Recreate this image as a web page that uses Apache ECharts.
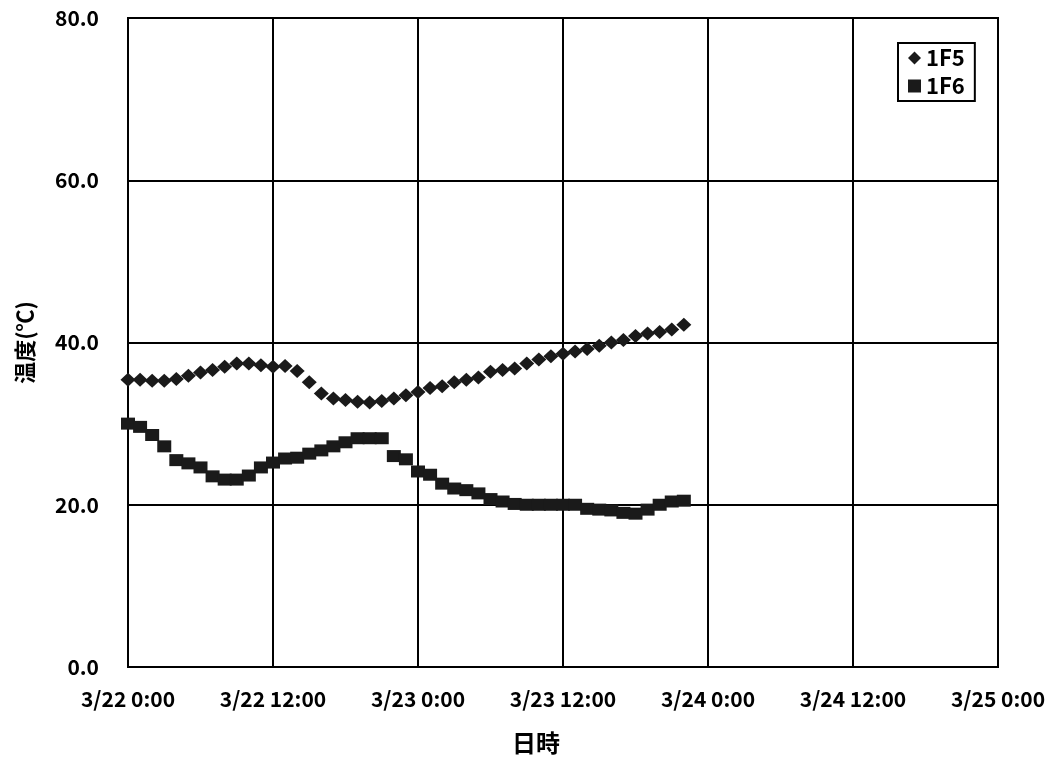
<!DOCTYPE html>
<html><head><meta charset="utf-8">
<script src="https://cdn.jsdelivr.net/npm/echarts@6/dist/echarts.min.js"></script>
<style>html,body{margin:0;padding:0;background:#fff}#c{width:1064px;height:762px}</style>
</head><body><div id="c"></div>
<script>
// hours since 3/22 0:00 (hourly readings)
const hours = [0,1,2,3,4,5,6,7,8,9,10,11,12,13,14,15,16,17,18,19,20,21,22,23,24,25,26,27,28,29,30,31,32,33,34,35,36,37,38,39,40,41,42,43,44,45,46];
const s1F5 = [35.4,35.4,35.3,35.3,35.5,35.9,36.3,36.6,37.0,37.4,37.4,37.2,37.0,37.1,36.5,35.1,33.7,33.1,32.9,32.7,32.6,32.8,33.1,33.5,33.9,34.4,34.6,35.1,35.4,35.7,36.4,36.6,36.8,37.4,37.9,38.3,38.6,38.9,39.2,39.6,40.0,40.3,40.8,41.1,41.3,41.6,42.2];
const s1F6 = [30.0,29.6,28.6,27.2,25.5,25.1,24.6,23.5,23.1,23.1,23.6,24.6,25.2,25.7,25.8,26.3,26.7,27.2,27.7,28.2,28.2,28.2,26.0,25.6,24.1,23.7,22.6,22.0,21.8,21.4,20.7,20.4,20.1,20.0,20.0,20.0,20.0,20.0,19.5,19.4,19.3,19.0,18.9,19.4,20.0,20.4,20.5];
const xTickLabels = ['3/22 0:00','3/22 12:00','3/23 0:00','3/23 12:00','3/24 0:00','3/24 12:00','3/25 0:00'];
const seriesNames = ['1F5','1F6'];
const xName = '日時';
const yName = '温度(℃)';

const FONT = '"Noto Sans CJK JP", "Noto Sans", sans-serif';
const chart = echarts.init(document.getElementById('c'));
const pair = (vals) => hours.map((h, i) => [h, vals[i]]);
chart.setOption({
  backgroundColor: '#fff',
  animation: false,
  grid: { left: 128, right: 66, top: 18, bottom: 95, show: true, borderColor: '#000', borderWidth: 2 },
  xAxis: {
    type: 'value', min: 0, max: 72, interval: 12,
    axisLine: { show: true, lineStyle: { color: '#000', width: 2 } },
    axisTick: { show: false },
    splitLine: { show: true, lineStyle: { color: '#000', width: 2 } },
    axisLabel: {
      margin: 22, color: '#000', fontFamily: FONT, fontWeight: 'bold', fontSize: 21,
      formatter: (v) => xTickLabels[Math.round(v / 12)]
    }
  },
  yAxis: {
    type: 'value', min: 0, max: 80, interval: 20,
    name: yName, nameLocation: 'middle', nameGap: 92,
    nameTextStyle: { color: '#000', fontFamily: FONT, fontWeight: 'bold', fontSize: 22 },
    axisLine: { show: true, lineStyle: { color: '#000', width: 2 } },
    axisTick: { show: false },
    splitLine: { show: true, lineStyle: { color: '#000', width: 2 } },
    axisLabel: {
      margin: 29, color: '#000', fontFamily: FONT, fontWeight: 'bold', fontSize: 21,
      formatter: (v) => v.toFixed(1)
    }
  },
  legend: {
    orient: 'vertical', left: 898, top: 43,
    itemWidth: 13, itemHeight: 13, itemGap: 6,
    padding: [4, 10, 4, 10],
    borderColor: '#000', borderWidth: 2, backgroundColor: '#fff',
    textStyle: { color: '#000', fontFamily: FONT, fontWeight: 'bold', fontSize: 22 },
    data: [
      { name: seriesNames[0], icon: 'diamond' },
      { name: seriesNames[1], icon: 'rect' }
    ]
  },
  graphic: [{
    type: 'text', left: 512, top: 731,
    style: { text: xName, fill: '#000', font: 'bold 24px ' + FONT }
  }],
  series: [
    { name: seriesNames[0], type: 'scatter', symbol: 'diamond', symbolSize: [15, 14],
      itemStyle: { color: '#1a1a1a', opacity: 1 }, data: pair(s1F5) },
    { name: seriesNames[1], type: 'scatter', symbol: 'rect', symbolSize: [14, 12],
      itemStyle: { color: '#1a1a1a', opacity: 1 }, data: pair(s1F6) }
  ]
});
</script></body></html>
